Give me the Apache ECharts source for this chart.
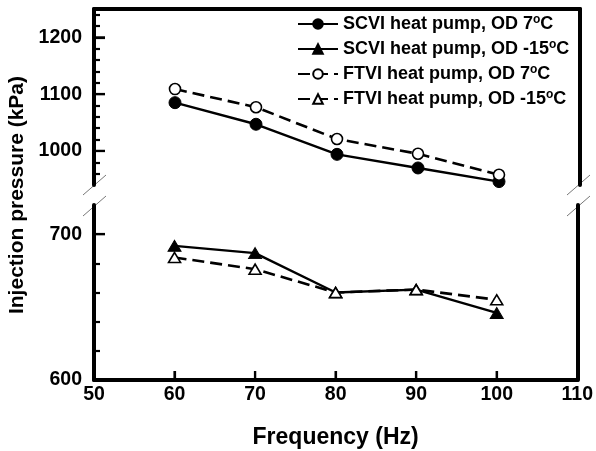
<!DOCTYPE html>
<html>
<head>
<meta charset="utf-8">
<script src="https://cdn.jsdelivr.net/npm/echarts@6/dist/echarts.min.js"></script>
<style>
html,body{margin:0;padding:0;background:#fff;}
#chart{width:596px;height:451px;}
</style>
</head>
<body>
<div id="chart"></div>
<script>
// ---- data ----
var frequency = [60, 70, 80, 90, 100];
var scvi7 = [1085, 1047, 994, 970, 946];
var ftvi7 = [1109, 1077, 1021, 995, 958];
var scviM15 = [692, 687, 660, 662, 646];
var ftviM15 = [684, 676, 660, 662, 655];
var seriesNames = ['SCVI heat pump, OD 7°C', 'SCVI heat pump, OD -15°C', 'FTVI heat pump, OD 7°C', 'FTVI heat pump, OD -15°C'];
var xTicks = [50, 60, 70, 80, 90, 100, 110];
var upperMajor = [1000, 1100, 1200];
var upperMinor = [960, 980, 1020, 1040, 1060, 1080, 1120, 1140, 1160, 1180, 1220, 1240];
var lowerMajor = [600, 700];
var lowerMinor = [620, 640, 660, 680];
var xTitle = 'Frequency (Hz)';
var yTitle = 'Injection pressure (kPa)';

function pairs(ys) { return frequency.map(function (f, i) { return [f, ys[i]]; }); }

var FONT = '"Liberation Sans", Arial, sans-serif';
var chart = echarts.init(document.getElementById('chart'));

var G_LEFT = 94, G_W = 486;
var UP_TOP = 9, UP_H = 176;
var LO_TOP = 205, LO_H = 175;
var AXW = 4;
var MAJOR_LEN = 11, MINOR_LEN = 6, X_TICK_LEN = 9;

function plainLabel(v) { return String(v); }
function labelStyle(margin, values) {
  return { margin: margin, customValues: values.slice(), formatter: plainLabel,
    color: '#000', fontFamily: FONT, fontWeight: 'bold', fontSize: 19.5 };
}
function axisLineOn() { return { show: true, lineStyle: { color: '#000', width: AXW } }; }
function ticks(len, values) {
  return { show: true, inside: true, length: len, customValues: values.slice(), lineStyle: { color: '#000', width: 2.2 } };
}
function off() { return { show: false }; }
function yLineAxis(grid, min, max, pos, labels) {
  return { gridIndex: grid, type: 'value', min: min, max: max, position: pos,
    axisLine: axisLineOn(), axisTick: off(), axisLabel: labels ? labelStyle(12, labels) : off(), splitLine: off() };
}
function yTickAxis(grid, min, max, len, values) {
  return { gridIndex: grid, type: 'value', min: min, max: max, position: 'left',
    axisLine: off(), axisTick: ticks(len, values), axisLabel: off(), splitLine: off() };
}

var baseGraphic = [
  { type: 'text', x: 17, y: 195, rotation: Math.PI / 2,
    style: { text: yTitle, fill: '#000', font: 'bold 21px ' + FONT, textAlign: 'center', textVerticalAlign: 'middle' } },
  { type: 'line', shape: { x1: 83, y1: 195, x2: 106, y2: 175 }, style: { stroke: '#777', lineWidth: 1 } },
  { type: 'line', shape: { x1: 83, y1: 216, x2: 106, y2: 196 }, style: { stroke: '#777', lineWidth: 1 } },
  { type: 'line', shape: { x1: 567, y1: 195, x2: 590, y2: 175 }, style: { stroke: '#777', lineWidth: 1 } },
  { type: 'line', shape: { x1: 567, y1: 216, x2: 590, y2: 196 }, style: { stroke: '#777', lineWidth: 1 } }
];

var option = {
  animation: false,
  grid: [
    { left: G_LEFT, top: UP_TOP, width: G_W, height: UP_H },
    { left: G_LEFT, top: LO_TOP, width: G_W, height: LO_H }
  ],
  xAxis: [
    { gridIndex: 0, type: 'value', min: 50, max: 110, interval: 10, position: 'top',
      axisLine: axisLineOn(), axisTick: off(), axisLabel: off(), splitLine: off() },
    { gridIndex: 1, type: 'value', min: 50, max: 110, interval: 10, position: 'bottom',
      axisLine: axisLineOn(), axisTick: off(),
      axisLabel: labelStyle(5, xTicks),
      splitLine: off(),
      name: xTitle, nameLocation: 'middle', nameGap: 46,
      nameTextStyle: { color: '#000', fontFamily: FONT, fontWeight: 'bold', fontSize: 23 } },
    { gridIndex: 1, type: 'value', min: 50, max: 110, interval: 10, position: 'bottom',
      axisLine: off(), axisTick: ticks(X_TICK_LEN, xTicks), axisLabel: off(), splitLine: off() }
  ],
  yAxis: [
    yLineAxis(0, 940, 1250, 'left', upperMajor),        // 0
    yTickAxis(0, 940, 1250, MAJOR_LEN, upperMajor),     // 1
    yTickAxis(0, 940, 1250, MINOR_LEN, upperMinor),     // 2
    yLineAxis(0, 940, 1250, 'right', null),             // 3
    yLineAxis(1, 600, 720, 'left', lowerMajor),         // 4
    yTickAxis(1, 600, 720, MAJOR_LEN, lowerMajor),      // 5
    yTickAxis(1, 600, 720, MINOR_LEN, lowerMinor),      // 6
    yLineAxis(1, 600, 720, 'right', null)               // 7
  ],
  legend: {
    orient: 'vertical', left: 292, top: 9, itemWidth: 40, itemHeight: 12, itemGap: 5,
    data: seriesNames,
    formatter: function (name) { return name.replace('°', '{sup|o}'); },
    textStyle: {
      color: '#000', fontFamily: FONT, fontWeight: 'bold', fontSize: 18, lineHeight: 20,
      rich: {
        sup: { fontFamily: FONT, fontWeight: 'bold', fontSize: 12, lineHeight: 20, verticalAlign: 'top', color: '#000' }
      }
    }
  },
  series: [
    { name: seriesNames[0], type: 'line', xAxisIndex: 0, yAxisIndex: 0, data: pairs(scvi7),
      symbol: 'circle', symbolSize: 12,
      itemStyle: { color: '#000', borderColor: '#000', borderWidth: 1 },
      lineStyle: { color: '#000', width: 2.4, type: 'solid' }, z: 2 },
    { name: seriesNames[1], type: 'line', xAxisIndex: 1, yAxisIndex: 4, data: pairs(scviM15),
      symbol: 'triangle', symbolSize: [13, 11],
      itemStyle: { color: '#000', borderColor: '#000', borderWidth: 1 },
      lineStyle: { color: '#000', width: 2.4, type: 'solid' }, z: 2 },
    { name: seriesNames[2], type: 'line', xAxisIndex: 0, yAxisIndex: 0, data: pairs(ftvi7),
      symbol: 'circle', symbolSize: 11,
      itemStyle: { color: '#fff', borderColor: '#000', borderWidth: 1.6 },
      lineStyle: { color: '#000', width: 2.6, type: [12, 6] }, z: 3 },
    { name: seriesNames[3], type: 'line', xAxisIndex: 1, yAxisIndex: 4, data: pairs(ftviM15),
      symbol: 'triangle', symbolSize: [12, 10],
      itemStyle: { color: '#fff', borderColor: '#000', borderWidth: 1.6 },
      lineStyle: { color: '#000', width: 2.6, type: [12, 6] }, z: 3 }
  ],
  graphic: baseGraphic
};
chart.setOption(option);

// Major ticks placed through the library's own axis scales (backup for the tick-only axes).
(function () {
  var g = baseGraphic.slice();
  var tickStyle = { stroke: '#000', lineWidth: 2.2 };
  var xAxisPix = chart.convertToPixel({ xAxisIndex: 1 }, 50);
  var yBottomPix = chart.convertToPixel({ yAxisIndex: 4 }, 600);
  upperMajor.forEach(function (v) {
    var y = chart.convertToPixel({ yAxisIndex: 0 }, v);
    g.push({ type: 'line', z: 5, shape: { x1: xAxisPix, y1: y, x2: xAxisPix + MAJOR_LEN, y2: y }, style: tickStyle });
  });
  lowerMajor.forEach(function (v) {
    var y = chart.convertToPixel({ yAxisIndex: 4 }, v);
    g.push({ type: 'line', z: 5, shape: { x1: xAxisPix, y1: y, x2: xAxisPix + MAJOR_LEN, y2: y }, style: tickStyle });
  });
  xTicks.forEach(function (v) {
    var x = chart.convertToPixel({ xAxisIndex: 1 }, v);
    g.push({ type: 'line', z: 5, shape: { x1: x, y1: yBottomPix, x2: x, y2: yBottomPix - X_TICK_LEN }, style: tickStyle });
  });
  chart.setOption({ graphic: g });
})();
</script>
</body>
</html>
